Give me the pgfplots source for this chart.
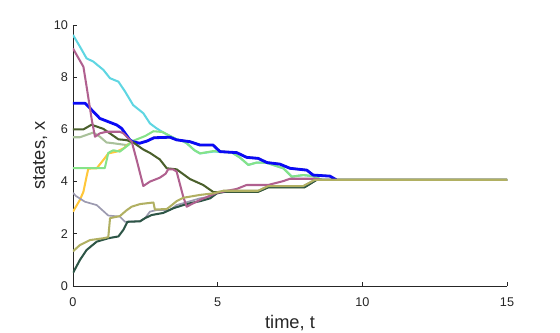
\documentclass[border=0pt]{standalone}
\usepackage{pgfplots}
\pgfplotsset{compat=1.18}
\usepackage{fontspec}
\setmainfont{Liberation Sans}

\definecolor{axisgray}{HTML}{262626}
\definecolor{cyanL}{HTML}{5FD6E2}
\definecolor{mauve}{HTML}{B0608F}
\definecolor{blueL}{HTML}{0A0AF5}
\definecolor{olive}{HTML}{4A5F2B}
\definecolor{sage}{HTML}{A9C19A}
\definecolor{lgreen}{HTML}{86E388}
\definecolor{yel}{HTML}{FFC73A}
\definecolor{grayL}{HTML}{9C9AB0}
\definecolor{khaki}{HTML}{B1B062}
\definecolor{teal}{HTML}{2D5546}

\begin{document}
\begin{tikzpicture}
\useasboundingbox (-1.825cm,-1.15cm) rectangle (12.175cm,7.15cm);
\begin{axis}[
    scale only axis,
    width=10.85cm, height=6.525cm,
    xmin=0, xmax=15, ymin=0, ymax=10,
    axis x line*=bottom, axis y line*=left,
    xtick={0,5,10,15}, ytick={0,2,...,10},
    tick align=inside, major tick length=0.1cm,
    axis line style={draw=axisgray, line width=0.5pt},
    tick style={draw=axisgray, line width=0.5pt},
    ticklabel style={font=\fontsize{9}{10}\selectfont, text=axisgray},
    xticklabel style={anchor=base, yshift=-0.5cm},
    /pgf/number format/assume math mode=true,
    xlabel={time, t}, ylabel={states, x},
    every axis x label/.style={at={(axis description cs:0.5,-0.161)}, anchor=base,
        font=\fontsize{13}{15}\selectfont, text=axisgray},
    every axis y label/.style={at={(axis description cs:-0.076,0.5)}, rotate=90, anchor=center,
        font=\fontsize{13}{15}\selectfont, text=axisgray},
    every axis plot/.append style={no marks, line width=1.45pt, line join=round},
]
% cyan
\addplot[cyanL] coordinates {(0,9.62) (0.24,9.17) (0.47,8.72) (0.7,8.6) (1.05,8.28) (1.28,7.96) (1.57,7.83) (1.8,7.45) (2.08,6.93) (2.43,6.62) (2.66,6.23) (2.89,6.04) (3.12,5.88) (3.3,5.78) (3.58,5.62) (3.8,5.55) (3.93,5.47) (4.2,5.2) (4.39,5.08) (4.85,5.15) (5.3,5.13) (5.5,5.11) (5.77,4.92) (6.06,4.64) (6.35,4.73) (6.7,4.72) (7.27,4.51) (7.56,4.19) (7.96,4.25) (8.3,4.21) (8.6,4.07) (15,4.07)};
% sage
\addplot[sage] coordinates {(0,5.7) (0.24,5.7) (0.7,5.88) (0.93,5.72) (1.16,5.5) (1.39,5.47) (1.85,5.4) (1.97,5.47) (2.07,5.53) (2.3,5.47) (2.55,5.55) (2.8,5.68) (3.35,5.7) (3.58,5.6) (4.04,5.53) (4.39,5.4) (4.84,5.4) (5.08,5.15) (5.66,5.11) (6.0,4.93) (6.4,4.89) (6.7,4.73) (7.15,4.67) (7.5,4.51) (8.08,4.44) (8.3,4.25) (8.88,4.21) (9.1,4.07) (15,4.07)};
% yellow
\addplot[yel] coordinates {(0,2.85) (0.24,3.3) (0.36,3.61) (0.47,4.2) (0.53,4.5) (0.82,4.51) (1.05,4.83) (1.22,5.08) (1.51,5.15) (1.74,5.27) (2.03,5.53) (2.3,5.47) (2.55,5.55) (2.8,5.68) (3.35,5.7) (3.58,5.6) (4.04,5.53) (4.39,5.4) (4.84,5.4) (5.08,5.15) (5.66,5.11) (6.0,4.93) (6.4,4.89) (6.7,4.73) (7.15,4.67) (7.5,4.51) (8.08,4.44) (8.3,4.25) (8.88,4.21) (9.1,4.07) (15,4.07)};
% gray
\addplot[grayL, line width=1.2pt] coordinates {(0,3.57) (0.1,3.45) (0.41,3.23) (0.82,3.1) (1.22,2.7) (1.62,2.66) (1.8,2.46) (2.32,2.48) (2.49,2.6) (2.66,2.85) (2.9,2.91) (3.35,2.91) (3.58,3.1) (4.39,3.36) (4.74,3.42) (5.08,3.6) (5.2,3.65) (6.4,3.65) (6.75,3.83) (7.96,3.83) (8.36,4.07) (15,4.07)};
% light green
\addplot[lgreen] coordinates {(0,4.52) (1.1,4.52) (1.22,5.1) (1.39,5.2) (1.62,5.15) (1.91,5.4) (2.05,5.55) (2.5,5.75) (2.78,5.93) (3.1,5.9) (3.3,5.78) (3.58,5.62) (3.8,5.55) (3.93,5.47) (4.2,5.2) (4.39,5.08) (4.85,5.17) (5.3,5.13) (5.5,5.11) (5.77,4.92) (6.06,4.64) (6.35,4.73) (6.7,4.72) (7.27,4.51) (7.56,4.19) (7.96,4.25) (8.3,4.21) (8.6,4.07) (15,4.07)};
% blue (thick until it joins the consensus value)
\addplot[blueL, line width=2pt] coordinates {(0,7.0) (0.42,7.0) (0.59,6.81) (0.93,6.42) (1.51,6.17) (1.68,6.04) (1.97,5.59) (2.07,5.53) (2.3,5.47) (2.55,5.55) (2.8,5.68) (3.35,5.7) (3.58,5.6) (4.04,5.53) (4.39,5.4) (4.84,5.4) (5.08,5.15) (5.66,5.11) (6.0,4.93) (6.4,4.89) (6.7,4.73) (7.15,4.67) (7.5,4.51) (8.08,4.44) (8.3,4.25) (8.88,4.21) (9.1,4.07)};
\addplot[blueL] coordinates {(9.1,4.07) (15,4.07)};
% dark olive
\addplot[olive] coordinates {(0,6.0) (0.36,6.0) (0.64,6.18) (1.05,6.02) (1.57,5.62) (1.85,5.59) (2.08,5.5) (2.43,5.23) (2.66,5.1) (3.0,4.85) (3.24,4.51) (3.58,4.47) (4.04,4.1) (4.5,3.87) (4.85,3.6) (5.0,3.6) (5.2,3.61) (6.4,3.61) (6.75,3.78) (8.0,3.78) (8.42,4.07) (15,4.07)};
% dark teal
\addplot[teal] coordinates {(0,0.5) (0.24,1.0) (0.47,1.38) (0.82,1.7) (1.22,1.83) (1.57,1.9) (1.74,2.15) (1.88,2.46) (2.32,2.48) (2.49,2.6) (2.72,2.72) (3.12,2.8) (3.47,2.98) (3.81,3.1) (4.04,3.17) (4.39,3.25) (4.74,3.36) (4.97,3.55) (5.31,3.62) (6.4,3.62) (6.75,3.79) (8.0,3.79) (8.42,4.07) (15,4.07)};
% mauve
\addplot[mauve] coordinates {(0,9.1) (0.36,8.4) (0.47,7.64) (0.65,6.36) (0.76,5.72) (0.93,5.85) (1.16,5.91) (1.62,5.91) (1.74,5.85) (2.03,5.53) (2.2,4.83) (2.43,3.83) (2.66,4.0) (3.0,4.15) (3.2,4.3) (3.29,4.47) (3.45,4.47) (3.58,4.39) (3.81,3.42) (3.93,3.04) (4.39,3.3) (4.97,3.57) (5.66,3.72) (6.0,3.87) (6.74,3.87) (7.27,4.02) (7.5,4.11) (8.36,4.11) (8.6,4.07) (15,4.07)};
% khaki
\addplot[khaki] coordinates {(0,1.33) (0.24,1.57) (0.59,1.76) (1.05,1.83) (1.22,1.87) (1.28,2.6) (1.62,2.68) (1.85,2.9) (2.03,3.04) (2.32,3.14) (2.78,3.2) (2.83,2.93) (3.24,2.95) (3.35,3.04) (3.58,3.25) (3.81,3.38) (4.39,3.49) (4.85,3.55) (5.2,3.65) (6.4,3.65) (6.75,3.83) (7.96,3.83) (8.36,4.07) (15,4.07)};
\end{axis}
\end{tikzpicture}
\end{document}
